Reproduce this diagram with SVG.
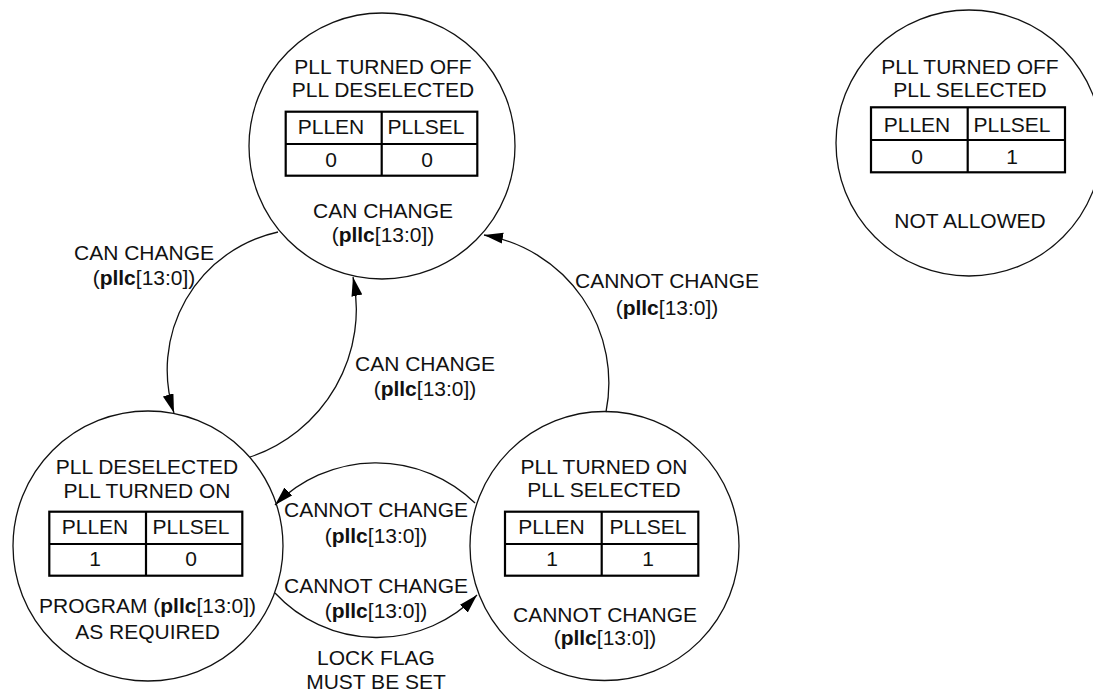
<svg xmlns="http://www.w3.org/2000/svg" width="1093" height="691" viewBox="0 0 1093 691">
<style>
text{font-family:"Liberation Sans",Arial,sans-serif;font-size:21px;fill:#111;text-anchor:middle}
.b{font-weight:bold}
.node{fill:none;stroke:#111;stroke-width:1.3}
.tbl{fill:none;stroke:#000;stroke-width:2.2}
.edge{fill:none;stroke:#111;stroke-width:1.3;marker-end:url(#arr)}
</style>
<defs>
<marker id="arr" markerUnits="userSpaceOnUse" markerWidth="20" markerHeight="12" refX="19" refY="5.5" orient="auto">
<path d="M0,0 L19,5.5 L0,11 z" fill="#000"/>
</marker>
</defs>
<rect width="1093" height="691" fill="#fff"/>

<g id="connectors">
<path class="edge" d="M278,232 A141,141 0 0 0 174,413"/>
<path class="edge" d="M250,457 A156,156 0 0 0 353,277"/>
<path class="edge" d="M606,412 A150,150 0 0 0 484,235"/>
<path class="edge" d="M475,503 A142,142 0 0 0 275,505"/>
<path class="edge" d="M275,593 A139,139 0 0 0 477,595"/>
<text x="144" y="260">CAN CHANGE</text>
<text x="144" y="285">(<tspan class="b">pllc</tspan>[13:0])</text>
<text x="425" y="371">CAN CHANGE</text>
<text x="425" y="396">(<tspan class="b">pllc</tspan>[13:0])</text>
<text x="667" y="288">CANNOT CHANGE</text>
<text x="667" y="315">(<tspan class="b">pllc</tspan>[13:0])</text>
<text x="376" y="517">CANNOT CHANGE</text>
<text x="376" y="543">(<tspan class="b">pllc</tspan>[13:0])</text>
<text x="376" y="593">CANNOT CHANGE</text>
<text x="376" y="618">(<tspan class="b">pllc</tspan>[13:0])</text>
<text x="376" y="665">LOCK FLAG</text>
<text x="376" y="689">MUST BE SET</text>
</g>

<g id="node-off-deselected">
<circle class="node" cx="382" cy="146" r="133"/>
<text x="383" y="74">PLL TURNED OFF</text>
<text x="383" y="97">PLL DESELECTED</text>
<rect class="tbl" x="285.7" y="111.7" width="191.6" height="64"/>
<line class="tbl" x1="381.7" y1="111.7" x2="381.7" y2="175.7"/>
<line class="tbl" x1="285.7" y1="144" x2="477.3" y2="144"/>
<text x="331" y="134">PLLEN</text>
<text x="426" y="134">PLLSEL</text>
<text x="331" y="166.5">0</text>
<text x="427" y="166.5">0</text>
<text x="383" y="218">CAN CHANGE</text>
<text x="383" y="242">(<tspan class="b">pllc</tspan>[13:0])</text>
</g>

<g id="node-off-selected">
<circle class="node" cx="969" cy="143" r="133"/>
<text x="970" y="74">PLL TURNED OFF</text>
<text x="970" y="97">PLL SELECTED</text>
<rect class="tbl" x="871" y="107.3" width="194" height="65"/>
<line class="tbl" x1="967.7" y1="107.3" x2="967.7" y2="172.3"/>
<line class="tbl" x1="871" y1="140" x2="1065" y2="140"/>
<text x="917" y="131.5">PLLEN</text>
<text x="1012" y="131.5">PLLSEL</text>
<text x="917" y="163.5">0</text>
<text x="1012" y="163.5">1</text>
<text x="970" y="228">NOT ALLOWED</text>
</g>

<g id="node-deselected-on">
<circle class="node" cx="148" cy="546" r="135"/>
<text x="147" y="474">PLL DESELECTED</text>
<text x="147" y="497.5">PLL TURNED ON</text>
<rect class="tbl" x="49.3" y="511.7" width="193" height="64"/>
<line class="tbl" x1="146" y1="511.7" x2="146" y2="575.7"/>
<line class="tbl" x1="49.3" y1="544" x2="242.3" y2="544"/>
<text x="95" y="534">PLLEN</text>
<text x="191" y="534">PLLSEL</text>
<text x="95" y="566">1</text>
<text x="191" y="566">0</text>
<text x="147.5" y="613">PROGRAM (<tspan class="b">pllc</tspan>[13:0])</text>
<text x="147.5" y="639">AS REQUIRED</text>
</g>

<g id="node-on-selected">
<circle class="node" cx="604.5" cy="546" r="134.5"/>
<text x="604" y="474">PLL TURNED ON</text>
<text x="604" y="497">PLL SELECTED</text>
<rect class="tbl" x="505" y="511.7" width="193.3" height="64"/>
<line class="tbl" x1="601.7" y1="511.7" x2="601.7" y2="575.7"/>
<line class="tbl" x1="505" y1="544" x2="698.3" y2="544"/>
<text x="551.5" y="534">PLLEN</text>
<text x="648" y="534">PLLSEL</text>
<text x="552" y="566">1</text>
<text x="648" y="566">1</text>
<text x="605" y="621.5">CANNOT CHANGE</text>
<text x="605" y="645">(<tspan class="b">pllc</tspan>[13:0])</text>
</g>
</svg>
